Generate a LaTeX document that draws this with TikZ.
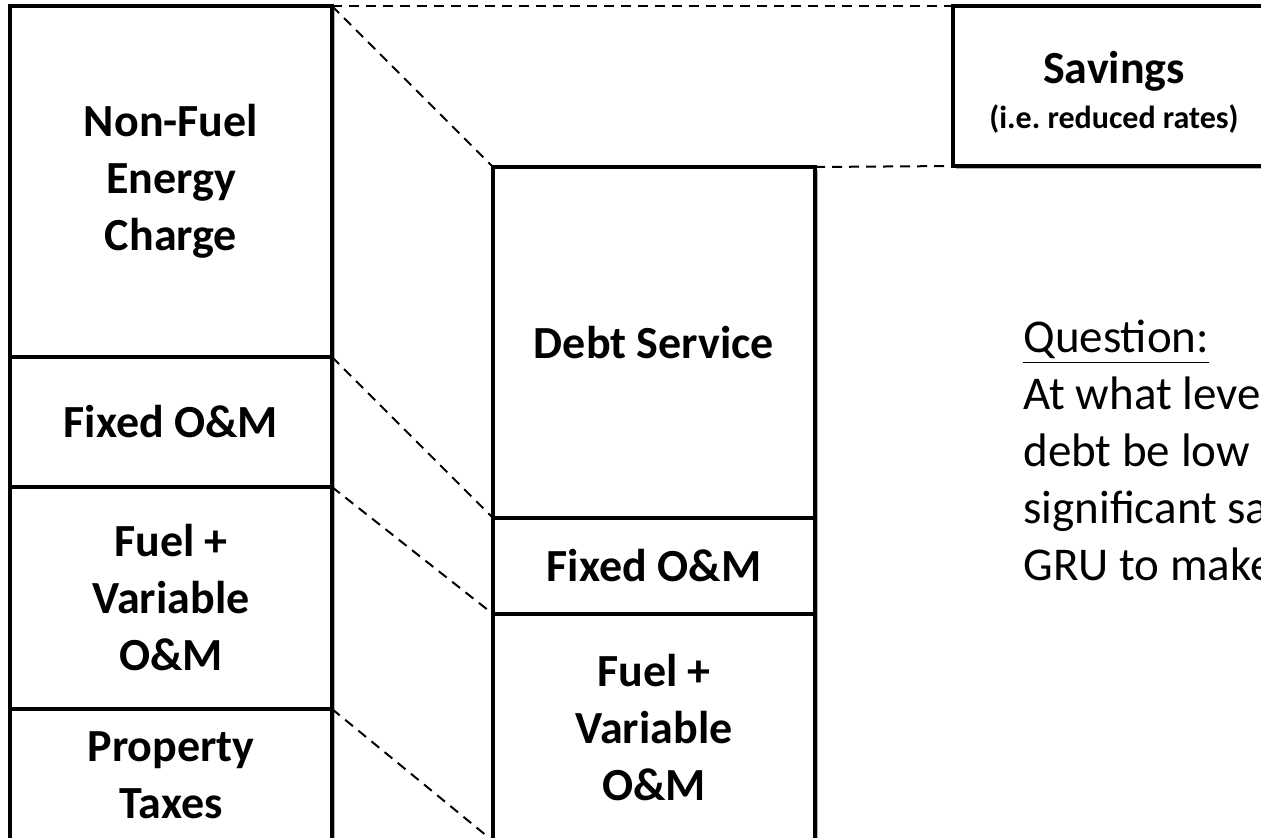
\documentclass[tikz,border=0pt]{standalone}
\usepackage{fontspec}
\setmainfont{Carlito}
\usetikzlibrary{positioning,shadows}

\begin{document}
\begin{tikzpicture}[
  x=0.5pt,
  y=-0.5pt,
  node distance=0pt,
  costbox/.style={
    rectangle,
    draw=black,
    fill=white,
    line width=2pt,
    inner sep=2pt,
    outer sep=0pt,
    minimum width=161pt,
    align=center,
    font=\fontsize{23}{28.5}\selectfont\bfseries,
    drop shadow={shadow xshift=1.5pt, shadow yshift=-1.5pt, fill=black, opacity=0.3}
  },
  split/.style={
    draw=black,
    line width=1pt,
    dash pattern=on 5pt off 3.5pt
  }
]
\useasboundingbox (0,0) rectangle (1261,837);
\clip (0,0) rectangle (1261,837);

% today's rate
\node[costbox, minimum height=175.5pt, anchor=north] (nfe) at (171,6) {Non-Fuel\\Energy\\Charge};
\node[costbox, minimum height=65pt, below=of nfe] (fixedL) {Fixed O\&M};
\node[costbox, minimum height=111pt, below=of fixedL] (fuelL) {Fuel +\\Variable\\O\&M};
\node[costbox, minimum height=66pt, below=of fuelL] (taxes) {Property\\Taxes};

% after buyout
\node[costbox, minimum height=175.5pt, anchor=north] (debt) at (654,167) {Debt Service};
\node[costbox, minimum height=48pt, below=of debt] (fixedR) {Fixed O\&M};
\node[costbox, minimum height=113.5pt, below=of fixedR] (fuelR) {Fuel +\\Variable\\O\&M};

\node[costbox, minimum height=80pt, anchor=north west] (savings) at (953,6) {\rule{0pt}{22pt}Savings\\[-6pt]{\fontsize{16}{20}\selectfont (i.e.\ reduced rates)}};

\node[anchor=north west, inner sep=0pt, align=left, font=\fontsize{23.5}{28.5}\selectfont] (question) at (1023,320) {\underline{Question:}\\At what leve\\debt be low\\significant sa\\GRU to make};

\draw[split] (nfe.north east) -- (savings.north west);
\draw[split] (nfe.north east) -- (debt.north west);
\draw[split] (debt.north east) -- (savings.south west);
\draw[split] (nfe.south east) -- (debt.south west);
\draw[split] (fixedL.south east) -- (fixedR.south west);
\draw[split] (fuelL.south east) -- (fuelR.south west);

\end{tikzpicture}
\end{document}
